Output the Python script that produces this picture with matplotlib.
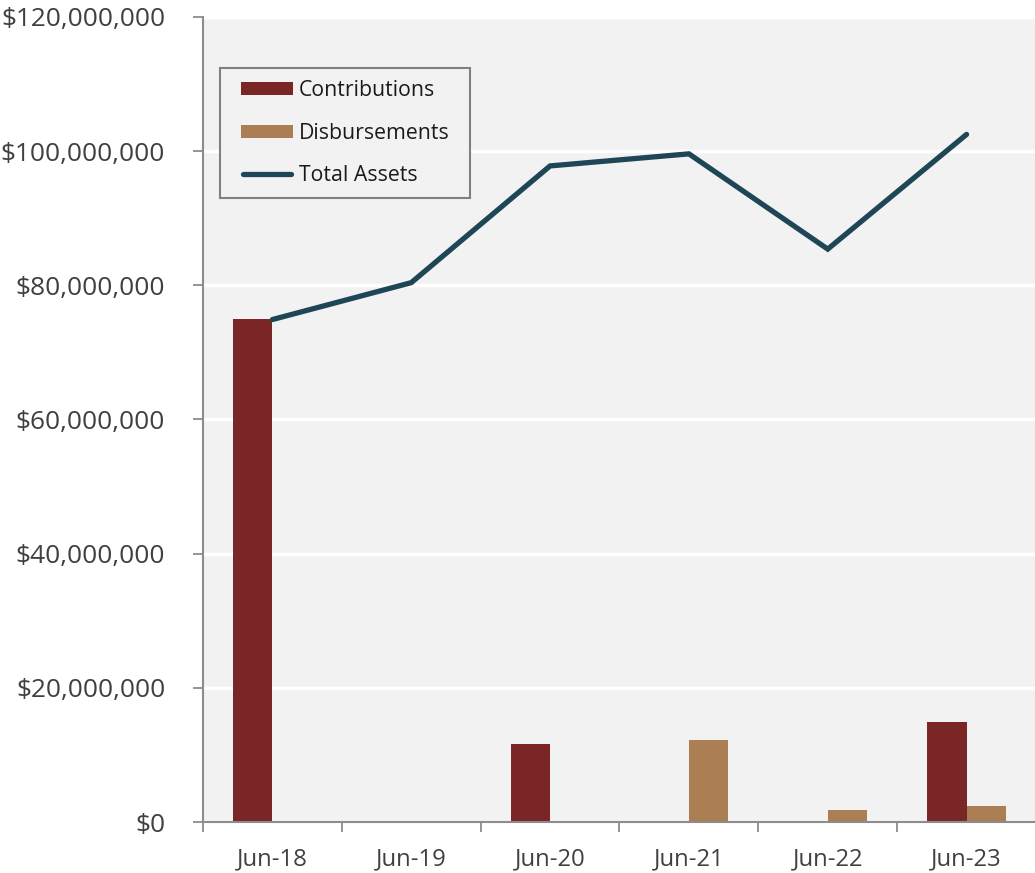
import matplotlib
matplotlib.use("Agg")
import matplotlib.pyplot as plt
from matplotlib.ticker import FuncFormatter, FixedLocator
from matplotlib.patches import Patch, Rectangle
from matplotlib.lines import Line2D
from matplotlib.legend_handler import HandlerBase
import numpy as np

plt.rcParams['font.family'] = ['Open Sans', 'DejaVu Sans']

periods = ["Jun-18", "Jun-19", "Jun-20", "Jun-21", "Jun-22", "Jun-23"]
contributions = [75_000_000, 0, 11_600_000, 0, 0, 14_900_000]
disbursements = [0, 0, 0, 12_200_000, 1_800_000, 2_400_000]
total_assets = [74_900_000, 80_400_000, 97_800_000, 99_600_000, 85_400_000, 102_500_000]

c_contrib = "#7b2626"
c_disb = "#ac7e53"
c_total = "#1e4657"
txt = "#404040"
spine = "#8c8c8c"
LW = 3.8


class InsetHandler(HandlerBase):
    """Legend key drawn a little in from the left edge of its box."""
    inset = 7.0   # points
    bar_h = 9.4   # points

    def create_artists(self, legend, orig_handle, xdescent, ydescent,
                       width, height, fontsize, trans):
        x0 = -xdescent + self.inset
        x1 = -xdescent + width
        yc = -ydescent + height / 2
        if isinstance(orig_handle, Line2D):
            a = Line2D([x0 + 1.5, x1 - 1.5], [yc, yc], color=orig_handle.get_color(),
                       lw=orig_handle.get_linewidth(), solid_capstyle="round")
        else:
            a = Rectangle((x0, yc - self.bar_h / 2), x1 - x0, self.bar_h,
                          facecolor=orig_handle.get_facecolor(), edgecolor="none")
        a.set_transform(trans)
        return [a]


fig = plt.figure(figsize=(10.35, 8.73), dpi=100)
ax = fig.add_axes([203 / 1035, 1 - 822 / 873, 833 / 1035, (822 - 17) / 873])
ax.set_facecolor("#f2f2f2")

x = np.arange(len(periods))
w = 0.285
ax.bar(x - w, contributions, width=w, align="edge", color=c_contrib, zorder=3)
ax.bar(x, disbursements, width=w, align="edge", color=c_disb, zorder=3)
ax.plot(x, total_assets, color=c_total, lw=LW, solid_capstyle="round",
        solid_joinstyle="miter", zorder=4)

ax.set_xlim(-0.5, len(periods) - 0.5)
ax.set_ylim(0, 120_000_000)
ax.set_yticks(np.arange(0, 120_000_001, 20_000_000))
ax.yaxis.set_major_formatter(FuncFormatter(lambda v, p: f"${v:,.0f}"))
ax.grid(axis="y", color="white", lw=2.5, zorder=1)
ax.set_axisbelow(True)

# category boundaries carry the tick marks, centers carry the labels
ax.xaxis.set_major_locator(FixedLocator(np.arange(-0.5, len(periods) - 0.4, 1.0)))
ax.xaxis.set_major_formatter(FuncFormatter(lambda v, p: ""))
ax.xaxis.set_minor_locator(FixedLocator(x))
ax.set_xticklabels(periods, minor=True)
ax.tick_params(axis="x", which="major", length=7.2, width=1.3, color=spine, direction="out")
ax.tick_params(axis="x", which="minor", length=0, pad=18, labelsize=17.2, labelcolor=txt)
ax.tick_params(axis="y", length=7.2, width=1.3, color=spine, direction="out",
               pad=20, labelsize=18.9, labelcolor=txt)

for s in ("top", "right"):
    ax.spines[s].set_visible(False)
for s in ("left", "bottom"):
    ax.spines[s].set_color(spine)
    ax.spines[s].set_linewidth(1.5)
ax.spines["bottom"].set_zorder(5)

handles = [
    Patch(facecolor=c_contrib, label="Contributions"),
    Patch(facecolor=c_disb, label="Disbursements"),
    Line2D([0], [0], color=c_total, lw=LW, label="Total Assets"),
]
leg_fs = 15.3
ax_w_px, ax_h_px = 833, 805
leg = ax.legend(handles=handles, loc="upper left",
                bbox_to_anchor=(17 / ax_w_px, 1 - 51 / ax_h_px, 250 / ax_w_px, 0),
                mode="expand",
                fontsize=leg_fs, frameon=True, fancybox=False, edgecolor="#808080",
                facecolor="#f2f2f2", framealpha=1,
                handlelength=(52 * 0.72 + InsetHandler.inset) / leg_fs,
                handleheight=0.7, handletextpad=0.25, labelspacing=1.03,
                borderpad=0.55, borderaxespad=0,
                handler_map={Patch: InsetHandler(), Line2D: InsetHandler()})
leg.get_frame().set_linewidth(1.5)
for t in leg.get_texts():
    t.set_color("#1a1a1a")

fig.savefig("out.png", dpi=100, facecolor="white")
